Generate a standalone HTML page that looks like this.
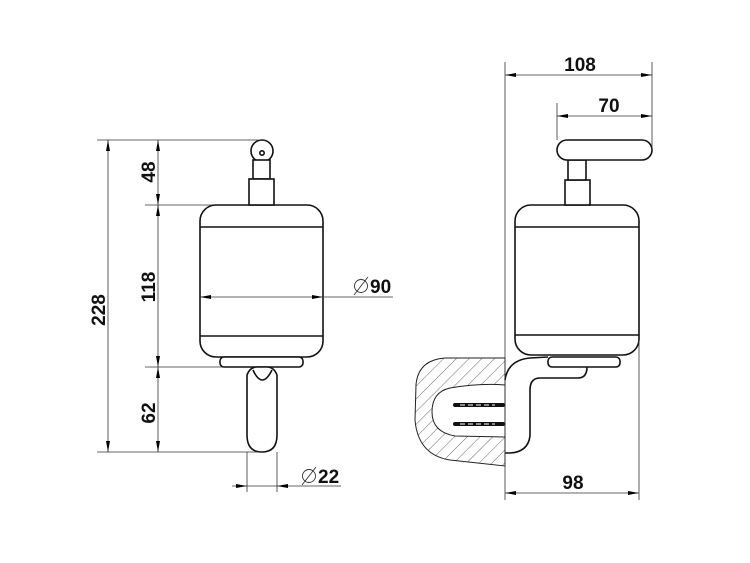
<!DOCTYPE html>
<html><head><meta charset="utf-8"><style>html,body{margin:0;padding:0;background:#fff}svg{display:block}</style></head><body>
<svg width="750" height="563" viewBox="0 0 750 563" xmlns="http://www.w3.org/2000/svg" font-family="Liberation Sans, sans-serif" font-weight="bold" font-size="19">
<defs>
<pattern id="h" width="9" height="9" patternUnits="userSpaceOnUse" patternTransform="rotate(45)"><line x1="0" y1="0" x2="0" y2="9" stroke="#444" stroke-width="0.8"/></pattern>
</defs>
<!-- left object -->
<g stroke="#111" stroke-width="1.6" fill="#fff">
<rect x="200" y="205" width="123" height="152" rx="16"/>
<line x1="200" y1="227" x2="323" y2="227"/>
<line x1="200" y1="336" x2="323" y2="336"/>
<rect x="220" y="357" width="83" height="10" rx="4"/>
<path d="M247,375 Q250,367 257,367 L267,367 Q274,367 277,375 L277,435 Q277,452 262,452 Q247,452 247,435 Z"/>
<path d="M253,370 Q262,390 272,370"/>
<circle cx="262" cy="151" r="11"/>
<rect x="253" y="160" width="17" height="19"/>
<rect x="249" y="179" width="25" height="26"/>
<circle cx="262" cy="153" r="2.2"/>
<!-- right object -->
<rect x="515" y="205" width="124" height="150" rx="16"/>
<line x1="515" y1="227" x2="639" y2="227"/>
<line x1="515" y1="335" x2="639" y2="335"/>
<rect x="565" y="180" width="25" height="25"/>
<rect x="568" y="160" width="18" height="20"/>
<rect x="557" y="140" width="95" height="20" rx="10"/>
<rect x="548" y="357" width="72" height="10" rx="4"/>
</g>
<!-- wall section -->
<path d="M505,358 L445,358 Q418,360 416,385 L415,420 Q418,455 450,460 L505,466 Z" fill="url(#h)" stroke="#222" stroke-width="1"/>
<path d="M505,385 Q480,383 450,388 Q432,392 432,412 Q432,432 455,436 L505,437 Z" fill="#fff" stroke="#222" stroke-width="1"/>
<g stroke="#111" stroke-width="4" stroke-linecap="round"><line x1="455" y1="405" x2="503" y2="405"/><line x1="455" y1="424" x2="503" y2="424"/></g>
<g stroke="#fff" stroke-width="1" stroke-dasharray="5,3"><line x1="460" y1="405" x2="495" y2="405"/><line x1="460" y1="424" x2="495" y2="424"/></g>
<path d="M505,380 Q508,360 530,358 L548,357 M587,367 Q587,378 578,378 L540,378 Q530,378 530,390 L530,436 Q528,452 510,453 L505,453" fill="none" stroke="#111" stroke-width="1.6"/>
<g stroke="#333" stroke-width="0.8" fill="none">
<line x1="97" y1="140" x2="258" y2="140"/>
<line x1="145" y1="205" x2="212" y2="205"/>
<line x1="145" y1="367" x2="222" y2="367"/>
<line x1="97" y1="452" x2="262" y2="452"/>
<line x1="247" y1="452" x2="247" y2="492"/>
<line x1="277" y1="452" x2="277" y2="492"/>
<line x1="108" y1="140" x2="108" y2="452"/>
<line x1="158" y1="140" x2="158" y2="452"/>
<line x1="200" y1="297" x2="393" y2="297"/>
<line x1="232" y1="486" x2="341" y2="486"/>
<line x1="505" y1="62" x2="505" y2="500"/>
<line x1="652" y1="62" x2="652" y2="150"/>
<line x1="557" y1="103" x2="557" y2="140"/>
<line x1="639" y1="340" x2="639" y2="500"/>
<line x1="505" y1="75" x2="652" y2="75"/>
<line x1="557" y1="116" x2="652" y2="116"/>
<line x1="505" y1="493" x2="639" y2="493"/>
</g>
<g fill="#000">
<polygon points="108,140 106,151 110,151"/><polygon points="108,452 106,441 110,441"/>
<polygon points="158,140 156,151 160,151"/><polygon points="158,205 156,194 160,194"/>
<polygon points="158,205 156,216 160,216"/><polygon points="158,367 156,356 160,356"/>
<polygon points="158,367 156,378 160,378"/><polygon points="158,452 156,441 160,441"/>
<polygon points="200,297 211,295 211,299"/><polygon points="323,297 312,295 312,299"/>
<polygon points="247,486 236,484 236,488"/><polygon points="277,486 288,484 288,488"/>
<polygon points="505,75 516,73 516,77"/><polygon points="652,75 641,73 641,77"/>
<polygon points="557,116 568,114 568,118"/><polygon points="652,116 641,114 641,118"/>
<polygon points="505,493 516,491 516,495"/><polygon points="639,493 628,491 628,495"/>
</g>
<g fill="#111">
<text transform="translate(105,310) rotate(-90)" text-anchor="middle">228</text>
<text transform="translate(155,172) rotate(-90)" text-anchor="middle">48</text>
<text transform="translate(155,287) rotate(-90)" text-anchor="middle">118</text>
<text transform="translate(155,413) rotate(-90)" text-anchor="middle">62</text>
<text x="370" y="293">90</text>
<text x="318" y="483">22</text>
<text x="580" y="71" text-anchor="middle">108</text>
<text x="609" y="112" text-anchor="middle">70</text>
<text x="573" y="489" text-anchor="middle">98</text>
</g>
<g fill="none" stroke="#333" stroke-width="0.9">
<circle cx="361" cy="286" r="6.5"/><line x1="354" y1="295" x2="368" y2="277"/>
<circle cx="309" cy="476" r="6.5"/><line x1="302" y1="485" x2="316" y2="467"/>
</g>
</svg>
</body></html>
